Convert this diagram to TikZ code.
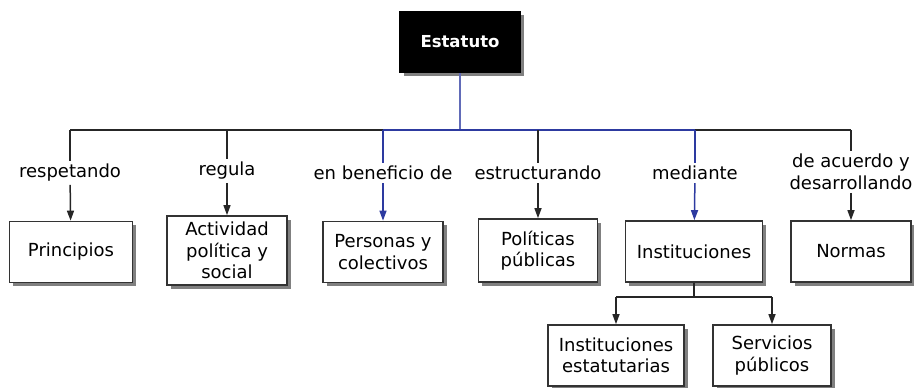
\documentclass[tikz,border=0pt]{standalone}
\usepackage{fontspec}
\setmainfont{DejaVu Sans}
\usetikzlibrary{arrows.meta,shadows}
\definecolor{link-blue}{RGB}{45,58,160}
\tikzset{
    concept-box/.style = {draw=black!80, fill=white, line width=1.7pt, rectangle, align=center, minimum height=61pt, inner sep=2pt, font=\fontsize{18}{21.5}\selectfont, drop shadow={shadow xshift=3.5pt, shadow yshift=-3.5pt, fill=black!50, opacity=1}},
    root-box/.style = {concept-box, fill=black, text=white, draw=black, font=\fontsize{16.5}{19}\selectfont\bfseries},
    link-label/.style = {align=center, inner sep=3pt, font=\fontsize{18}{21.5}\selectfont},
    link/.style = {line width=1.5pt, draw=black!85},
    link-arrow/.style = {link, -{Triangle[length=10pt,width=7pt]}},
}

\begin{document}
\begin{tikzpicture}[x=1pt,y=-1pt]
\useasboundingbox (0,0) rectangle (914,388);
% concepts
\node[root-box, minimum width=120pt] (estatuto) at (460,42) {Estatuto};
\node[concept-box, minimum width=123pt] (principios) at (71,252) {Principios};
\node[concept-box, minimum width=120pt, minimum height=69pt] (actividad) at (227,250.5) {Actividad\\política y\\social};
\node[concept-box, minimum width=120pt] (personas) at (383,252) {Personas y\\colectivos};
\node[concept-box, minimum width=119pt, minimum height=63pt] (politicas) at (538,250.5) {Políticas\\públicas};
\node[concept-box, minimum width=137pt] (instituciones) at (694,251.5) {Instituciones};
\node[concept-box, minimum width=120pt] (normas) at (851,251.5) {Normas};
\node[concept-box, minimum width=136pt] (estatutarias) at (616,355.5) {Instituciones\\estatutarias};
\node[concept-box, minimum width=118pt] (servicios) at (772,355.5) {Servicios\\públicos};
% link words
\node[link-label] (respetando) at (70,173) {respetando};
\node[link-label] (regula) at (227,171) {regula};
\node[link-label] (beneficio) at (383,173) {en beneficio de};
\node[link-label] (estructurando) at (538,173) {estructurando};
\node[link-label] (mediante) at (695,173) {mediante};
\node[link-label] (acuerdo) at (851,172) {de acuerdo y\\desarrollando};
% branching points
\coordinate (hub) at (460,130);
\coordinate (c1) at (respetando |- hub);
\coordinate (c3) at (beneficio |- hub);
\coordinate (c5) at (mediante |- hub);
\coordinate (c6) at (acuerdo |- hub);
\coordinate (sub) at (694,297);
\coordinate (s1) at (estatutarias |- sub);
\coordinate (s2) at (servicios |- sub);
% connectors
\draw[link, draw=link-blue!75] (estatuto) -- (hub);
\draw[link] (c1) -- (c3);
\draw[link, draw=link-blue] (c3) -- (c5);
\draw[link] (c5) -- (c6);
\draw[link] (c1) -- (respetando);
\draw[link-arrow] (respetando) -- (principios);
\draw[link] (actividad.north |- hub) -- (regula);
\draw[link-arrow] (regula) -- (actividad);
\draw[link, draw=link-blue] (c3) -- (beneficio);
\draw[link-arrow, draw=link-blue] (beneficio) -- (personas);
\draw[link] (politicas.north |- hub) -- (estructurando);
\draw[link-arrow] (estructurando) -- (politicas);
\draw[link, draw=link-blue] (c5) -- (mediante);
\draw[link-arrow, draw=link-blue] (mediante) -- (instituciones);
\draw[link] (c6) -- (acuerdo);
\draw[link-arrow] (acuerdo) -- (normas);
\draw[link] (instituciones) -- (sub);
\draw[link] (s1) -- (s2);
\draw[link-arrow] (s1) -- (estatutarias);
\draw[link-arrow] (s2) -- (servicios);
\end{tikzpicture}
\end{document}
